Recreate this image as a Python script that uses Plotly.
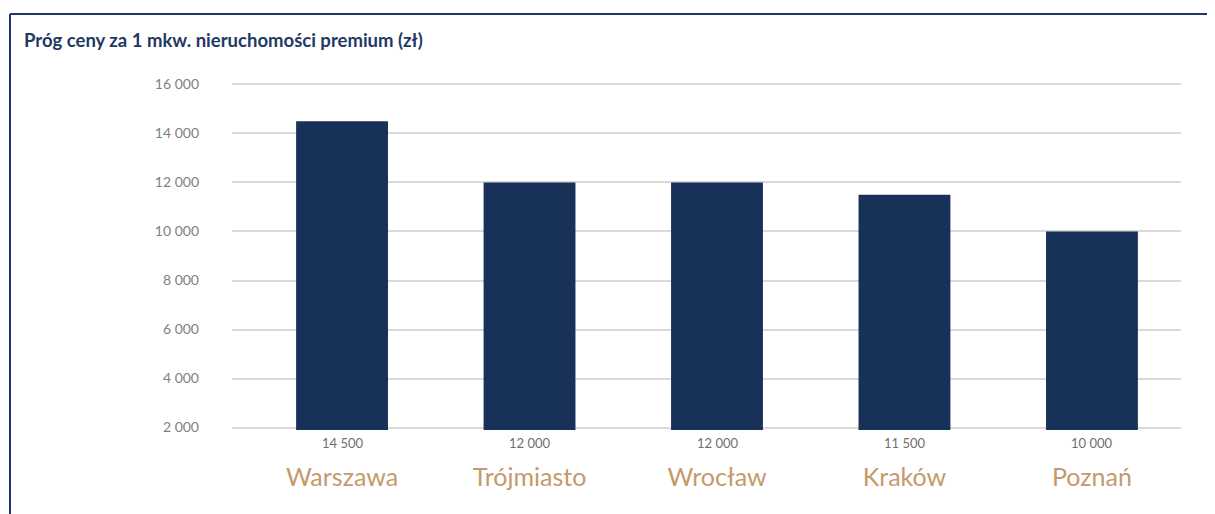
import plotly.graph_objects as go

cities = ["Warszawa", "Trójmiasto", "Wrocław", "Kraków", "Poznań"]
values = [14500, 12000, 12000, 11500, 10000]
value_labels = ["14 500", "12 000", "12 000", "11 500", "10 000"]
y_ticks = [2000, 4000, 6000, 8000, 10000, 12000, 14000, 16000]
title_text = "Próg ceny za 1 mkw. nieruchomości premium (zł)"

Y_MIN, Y_MAX = 2000, 16000
PAD = 100  # small range padding so edge gridlines are drawn

# page has an 8px body margin; work in reference pixel coords minus 8
OFF = 8
W, H = 1215 - OFF, 514 - OFF
grid_top, grid_bot = 84, 428  # reference pixels of 16000 and 2000
pad_px = PAD * (grid_bot - grid_top) / (Y_MAX - Y_MIN)
L, R = 232 - OFF, 34
T = round(grid_top - pad_px) - OFF
B = round((514 - grid_bot) - pad_px)
pw, ph = W - L - R, H - T - B

def px_x(p):
    return (p - OFF - L) / pw

def px_y(p):
    return 1 - (p - OFF - T) / ph

NAVY = "#173158"
TAN = "#c49a6c"
GRAY = "#7f7f7f"

fig = go.Figure()
fig.add_trace(go.Bar(
    x=list(range(len(cities))), y=values,
    marker=dict(color=NAVY, line=dict(width=0)),
    width=0.49, hoverinfo="skip",
))

for i, lab in enumerate(value_labels):
    fig.add_annotation(x=i, xref="x", y=px_y(443), yref="paper",
                       text=lab, showarrow=False,
                       font=dict(size=13, color="#6f6f6f", family="Lato"),
                       xanchor="center", yanchor="middle")

fig.add_annotation(x=px_x(22), xref="paper", y=px_y(40), yref="paper",
                   text="<b>" + title_text + "</b>", showarrow=False,
                   font=dict(size=18.5, color="#1f3864", family="Lato"),
                   xanchor="left", yanchor="middle")

# frame lines (top and left)
fig.add_shape(type="line", xref="paper", yref="paper",
              x0=px_x(10), x1=px_x(1230), y0=px_y(14), y1=px_y(14),
              line=dict(color="#1f3864", width=2))
fig.add_shape(type="line", xref="paper", yref="paper",
              x0=px_x(10), x1=px_x(10), y0=px_y(14), y1=px_y(530),
              line=dict(color="#1f3864", width=2))

fig.update_layout(
    width=W, height=H,
    margin=dict(l=L, r=R, t=T, b=B),
    paper_bgcolor="white", plot_bgcolor="white",
    showlegend=False,
    separators=". ",
    font=dict(family="Lato"),
    xaxis=dict(
        range=[-0.587, 4.475],
        tickmode="array",
        tickvals=list(range(len(cities))),
        ticktext=cities,
        tickfont=dict(size=25, color=TAN, family="Lato"),
        showgrid=False, zeroline=False, showline=False,
        ticks="", ticklabelstandoff=30,
    ),
    yaxis=dict(
        range=[Y_MIN - PAD, Y_MAX + PAD],
        tickmode="array",
        tickvals=y_ticks,
        tickformat=",d",
        tickfont=dict(size=14, color=GRAY, family="Lato"),
        showgrid=True, gridcolor="#d9d9d9", gridwidth=1.5,
        zeroline=False, showline=False, ticks="",
        ticklabelstandoff=32,
        layer="below traces",
    ),
)

fig.write_html("out.html")
